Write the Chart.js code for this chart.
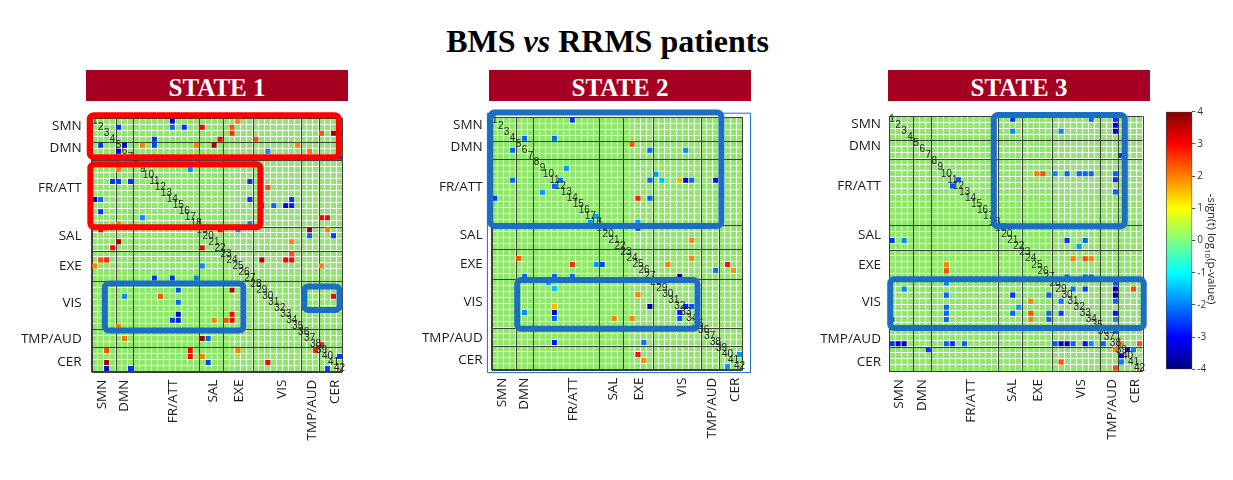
<!DOCTYPE html>
<html>
<head>
<meta charset="utf-8">
<script src="https://cdn.jsdelivr.net/npm/chart.js@4.4.1/dist/chart.umd.min.js"></script>
<style>
  body { margin: 0; background: #fff; width: 1233px; height: 480px; position: relative; overflow: hidden; }
  canvas { position: absolute; }
  #title { position: absolute; left: 0; width: 1215px; top: 25px; text-align: center;
           font: bold 32px "Liberation Serif", "Times New Roman", serif; line-height: 32px; color: #000; }
  .banner { position: absolute; top: 70px; width: 262px; height: 31px; background: #a50021;
            color: #fff; text-align: center; font: bold 25px "Liberation Serif", serif; line-height: 35px; overflow: visible; }
  #cblabel { position: absolute; left: 1142px; top: 241px; width: 140px; height: 16px; line-height: 16px;
             text-align: center; font: 11.5px "Open Sans", sans-serif; color: #222; transform: rotate(90deg); white-space: nowrap; }
  #cblabel sub { font-size: 8px; }
</style>
</head>
<body>
<div id="title">BMS <i>vs</i> RRMS patients</div>
<div class="banner" style="left:86px">STATE 1</div>
<div class="banner" style="left:489px">STATE 2</div>
<div class="banner" style="left:888px">STATE 3</div>

<canvas id="m1" width="360" height="360" style="left:0px;top:100px"></canvas>
<canvas id="m2" width="360" height="360" style="left:400px;top:100px"></canvas>
<canvas id="m3" width="360" height="360" style="left:800px;top:100px"></canvas>
<canvas id="cb" width="60" height="285" style="left:1160px;top:100px"></canvas>
<div id="cblabel">-sign(t) log<sub>10</sub>(p-value)</div>

<script>
// networks and node counts
var nodeCount = 42;
var networks = ['SMN', 'DMN', 'FR/ATT', 'SAL', 'EXE', 'VIS', 'TMP/AUD', 'CER'];
var networkEdges = [0, 4, 7, 18, 22, 27, 35, 38, 42];
var yLabelPos = [1.3, 5.0, 11.6, 19.6, 24.5, 30.7, 36.7, 40.5];
var xLabelPos = [1.7, 5.5, 13.6, 20.4, 24.7, 31.9, 36.9, 40.8];
var colorbarTicks = [-4, -3, -2, -1, 0, 1, 2, 3, 4];

// significant connections (upper triangle, row < col), value = -sign(t) log10(p)
var s1Rows = [1, 1, 2, 2, 2, 2, 2, 3, 3, 3, 3, 4, 4, 4, 5, 5, 5, 5, 5, 5, 6, 6, 7, 7, 9, 11, 12, 14, 14, 15, 15, 15, 15, 17, 17, 18, 19, 19, 19, 19, 20, 20, 21, 23, 24, 24, 24, 25, 30, 38, 40];
var s1Cols = [14, 25, 5, 14, 16, 19, 24, 24, 39, 41, 42, 11, 22, 28, 6, 9, 11, 18, 21, 35, 30, 37, 11, 42, 17, 27, 30, 27, 34, 29, 31, 33, 34, 39, 40, 27, 22, 25, 37, 40, 37, 41, 34, 34, 29, 33, 34, 39, 41, 39, 42];
var s1Vals = [-3.3, 2.0, -2.6, -2.2, -2.6, 3.0, 2.4, 2.7, 2.4, 3.7, -3.3, -2.6, 3.0, 2.4, -3.3, 2.0, -2.5, 2.0, 3.7, 2.0, -1.9, 2.1, -2.6, -2.6, -1.9, -2.6, 2.4, -2.6, -2.6, -2.4, -2.2, -3.3, -2.8, 3.0, 3.0, -2.0, 3.0, -1.9, 3.7, 2.0, -2.2, -2.5, 2.0, 2.4, 3.6, 3.0, 3.0, 2.0, 3.0, 2.8, -2.5];

var s2Rows = [1, 4, 4, 5, 6, 6, 9, 10, 11, 11, 11, 11, 11, 11, 11, 14, 14, 17, 18, 19, 21, 24, 25, 25, 26, 26, 27, 32, 32, 40];
var s2Cols = [14, 6, 11, 24, 27, 33, 13, 28, 12, 27, 29, 32, 33, 34, 38, 25, 27, 18, 25, 25, 34, 34, 30, 40, 38, 41, 32, 33, 34, 42];
var s2Vals = [-2.6, -2.2, -2.2, 2.4, -2.2, -1.9, -1.8, -1.8, -2.2, -2.2, -1.5, 1.6, -3.2, -2.2, -2.9, 2.7, -2.2, -1.8, -1.8, -2.5, 2.0, 2.0, 2.0, 2.9, -2.1, 1.9, -3.8, -2.8, -2.3, -1.8];

var s3Rows = [1, 1, 1, 2, 3, 3, 3, 7, 10, 10, 10, 10, 10, 10, 10, 10, 11, 11, 13, 21, 21, 22, 24, 24, 24, 27, 27, 27, 28, 29, 29, 29, 29, 30, 31, 33, 34, 36, 38, 38, 39, 39];
var s3Cols = [21, 34, 38, 38, 21, 29, 38, 39, 25, 26, 28, 30, 32, 33, 34, 38, 12, 38, 38, 30, 33, 32, 31, 33, 34, 30, 33, 34, 38, 31, 33, 38, 41, 38, 38, 38, 38, 38, 39, 42, 40, 41];
var s3Vals = [-2.6, -2.2, -2.6, -3.3, -1.9, -1.9, -3.3, -2.6, 2.0, 2.4, -1.9, -2.2, -2.2, -2.2, -2.2, -2.2, -2.4, -2.6, -2.2, -2.6, -2.2, -1.8, 2.0, 2.4, 2.0, -2.2, -2.2, -2.2, -2.3, -2.1, -2.5, -3.6, 2.4, -3.6, -2.2, -2.9, -1.9, -2.2, 2.0, 2.4, -3.0, -2.0];

var GREEN = '#92e56e';
var DARK = '#3e3e3e';
var BOX_RED = '#ff0000';
var BOX_BLUE = '#1b6ec2';

function jet(v) {
    var t = (v + 4) / 8;
    function c(x) { return Math.round(255 * Math.max(0, Math.min(1, x))); }
    return 'rgb(' + c(1.5 - Math.abs(4 * t - 3)) + ',' + c(1.5 - Math.abs(4 * t - 2)) + ',' + c(1.5 - Math.abs(4 * t - 1)) + ')';
}

// the matrix is symmetric: each connection is drawn at (row, col) and (col, row)
function buildPoints(rows, cols, vals) {
    var pts = [];
    rows.forEach(function(r, i) {
        pts.push({ x: cols[i] - 0.5, y: r - 0.5, v: vals[i] });
        pts.push({ x: r - 0.5, y: cols[i] - 0.5, v: vals[i] });
    });
    return pts;
}

var gridTicks = [];
for (var k = 0; k <= nodeCount; k++) gridTicks.push({ value: k });

var overlay = {
    id: 'overlay',
    beforeDraw: function(chart) {
        var a = chart.chartArea, ctx = chart.ctx;
        ctx.save();
        ctx.fillStyle = GREEN;
        ctx.fillRect(a.left, a.top, a.width, a.height);
        ctx.restore();
    },
    beforeDatasetsDraw: function(chart) {
        // network boundaries, drawn over the white cell grid
        var ctx = chart.ctx, a = chart.chartArea, xs = chart.scales.x, ys = chart.scales.y;
        ctx.save();
        ctx.strokeStyle = DARK;
        ctx.lineWidth = 1;
        ctx.beginPath();
        networkEdges.forEach(function(e) {
            var px = Math.round(xs.getPixelForValue(e)) + 0.5;
            var py = Math.round(ys.getPixelForValue(e)) + 0.5;
            ctx.moveTo(px, a.top); ctx.lineTo(px, a.bottom);
            ctx.moveTo(a.left, py); ctx.lineTo(a.right, py);
        });
        ctx.stroke();
        ctx.restore();
    },
    afterDatasetsDraw: function(chart, args, opts) {
        var ctx = chart.ctx, xs = chart.scales.x, ys = chart.scales.y;
        ctx.save();
        // node numbers along the diagonal
        ctx.font = '10px "Liberation Sans", Arial, sans-serif';
        ctx.fillStyle = '#222';
        ctx.textAlign = 'center';
        ctx.textBaseline = 'middle';
        for (var i = 1; i <= nodeCount; i++) {
            ctx.fillText(String(i), xs.getPixelForValue(i - 0.5), ys.getPixelForValue(i - 0.5));
        }
        // highlight boxes
        (opts.boxes || []).forEach(function(b) {
            var x0 = xs.getPixelForValue(b.x[0]), x1 = xs.getPixelForValue(b.x[1]);
            var y0 = ys.getPixelForValue(b.y[0]), y1 = ys.getPixelForValue(b.y[1]);
            ctx.beginPath();
            if (ctx.roundRect) ctx.roundRect(x0, y0, x1 - x0, y1 - y0, b.r || 0);
            else ctx.rect(x0, y0, x1 - x0, y1 - y0);
            ctx.lineWidth = b.w;
            ctx.lineJoin = 'round';
            ctx.strokeStyle = b.color;
            ctx.stroke();
        });
        ctx.restore();
    }
};

function matrixChart(id, rows, cols, vals, geo, boxes) {
    var labelFont = { family: '"Open Sans", sans-serif', size: 13.5 };
    return new Chart(document.getElementById(id), {
        type: 'scatter',
        data: {
            datasets: [{
                data: buildPoints(rows, cols, vals),
                pointStyle: 'rect',
                pointRadius: function(ctx) {
                    var a = ctx.chart.chartArea;
                    return a ? (a.width / nodeCount - 1) / Math.SQRT2 : 3.6;
                },
                pointBorderWidth: 0,
                pointBackgroundColor: function(ctx) { return ctx.raw ? jet(ctx.raw.v) : GREEN; }
            }]
        },
        options: {
            responsive: false,
            animation: false,
            events: [],
            layout: { padding: { top: geo.top, right: geo.right, left: 0, bottom: 0 } },
            plugins: { legend: { display: false }, tooltip: { enabled: false }, overlay: { boxes: boxes } },
            scales: {
                x: {
                    type: 'linear', axis: 'x', position: 'bottom', min: 0, max: nodeCount, weight: 0,
                    afterBuildTicks: function(s) { s.ticks = gridTicks.slice(); },
                    ticks: { display: false },
                    grid: { color: 'rgba(255,255,255,0.9)', lineWidth: 1, drawTicks: false },
                    border: { color: DARK },
                    afterFit: function(s) { s.height = 0; }
                },
                xl: {
                    type: 'linear', axis: 'x', position: 'bottom', min: 0, max: nodeCount, weight: 1,
                    afterBuildTicks: function(s) { s.ticks = xLabelPos.map(function(v) { return { value: v }; }); },
                    ticks: {
                        callback: function(v, i) { return networks[i]; },
                        minRotation: 90, maxRotation: 90, autoSkip: false, padding: 8,
                        font: labelFont, color: '#1a1a1a'
                    },
                    grid: { display: false, drawTicks: false },
                    border: { display: false },
                    afterFit: function(s) { s.height = geo.bottom; }
                },
                y: {
                    type: 'linear', axis: 'y', position: 'left', min: 0, max: nodeCount, reverse: true, weight: 0,
                    afterBuildTicks: function(s) { s.ticks = gridTicks.slice(); },
                    ticks: { display: false },
                    grid: { color: 'rgba(255,255,255,0.9)', lineWidth: 1, drawTicks: false },
                    border: { color: DARK },
                    afterFit: function(s) { s.width = 0; }
                },
                yl: {
                    type: 'linear', axis: 'y', position: 'left', min: 0, max: nodeCount, reverse: true, weight: 1,
                    afterBuildTicks: function(s) { s.ticks = yLabelPos.map(function(v) { return { value: v }; }); },
                    ticks: {
                        callback: function(v, i) { return networks[i]; },
                        autoSkip: false, padding: geo.labelPad, font: labelFont, color: '#1a1a1a'
                    },
                    grid: { display: false, drawTicks: false },
                    border: { display: false },
                    afterFit: function(s) { s.width = geo.left; }
                }
            }
        },
        plugins: [overlay]
    });
}

document.addEventListener('DOMContentLoaded', function() {
    matrixChart('m1', s1Rows, s1Cols, s1Vals,
        { left: 91.7, top: 13.3, right: 10, bottom: 88.4, labelPad: 10 },
        [
            { x: [-0.33, 41.4], y: [-0.49, 6.5], color: BOX_RED, w: 6, r: 4 },
            { x: [-0.23, 28.26], y: [7.64, 18.08], color: BOX_RED, w: 6, r: 4 },
            { x: [2.2, 25.4], y: [27.4, 35.2], color: BOX_BLUE, w: 6, r: 4 },
            { x: [35.6, 41.5], y: [27.9, 31.8], color: BOX_BLUE, w: 6, r: 4 }
        ]);

    matrixChart('m2', s2Rows, s2Cols, s2Vals,
        { left: 91.7, top: 11.3, right: 10, bottom: 90.4, labelPad: 9 },
        [
            { x: [-0.72, 43.35], y: [-0.65, 42.5], color: BOX_BLUE, w: 1, r: 0 },
            { x: [-0.23, 38.47], y: [-0.75, 18.1], color: BOX_BLUE, w: 6, r: 4 },
            { x: [4.28, 34.47], y: [27.1, 35.2], color: BOX_BLUE, w: 6, r: 4 }
        ]);

    matrixChart('m3', s3Rows, s3Cols, s3Vals,
        { left: 89, top: 10.7, right: 10.7, bottom: 89, labelPad: 8 },
        [
            { x: [17.36, 39.05], y: [-0.2, 18.17], color: BOX_BLUE, w: 6, r: 4 },
            { x: [0.2, 42.2], y: [26.9, 34.9], color: BOX_BLUE, w: 6, r: 4 }
        ]);

    // colour bar: one floating bar from -4 to 4 filled with the jet gradient
    new Chart(document.getElementById('cb'), {
        type: 'bar',
        data: {
            labels: ['scale'],
            datasets: [{
                data: [[colorbarTicks[0], colorbarTicks[colorbarTicks.length - 1]]],
                barPercentage: 1,
                categoryPercentage: 1,
                borderWidth: 1,
                borderColor: '#444',
                borderSkipped: false,
                backgroundColor: function(ctx) {
                    var a = ctx.chart.chartArea;
                    if (!a) return '#80ff80';
                    var g = ctx.chart.ctx.createLinearGradient(0, a.bottom, 0, a.top);
                    var stops = [[-4, '#000080'], [-3, '#0000ff'], [-1, '#00ffff'], [0, '#80ff80'], [1, '#ffff00'], [3, '#ff0000'], [4, '#800000']];
                    stops.forEach(function(s) { g.addColorStop((s[0] + 4) / 8, s[1]); });
                    return g;
                }
            }]
        },
        options: {
            responsive: false,
            animation: false,
            events: [],
            layout: { padding: { left: 6, top: 11.7, bottom: 15.7, right: 0 } },
            plugins: { legend: { display: false }, tooltip: { enabled: false } },
            scales: {
                x: { display: false },
                y: {
                    position: 'right', min: -4, max: 4,
                    ticks: { stepSize: 1, padding: 2, font: { family: '"Open Sans", sans-serif', size: 10 }, color: '#333' },
                    grid: { drawOnChartArea: false, tickLength: 3, color: '#555' },
                    border: { display: false },
                    afterFit: function(s) { s.width = 27.7; }
                }
            }
        }
    });
});
</script>
</body>
</html>
